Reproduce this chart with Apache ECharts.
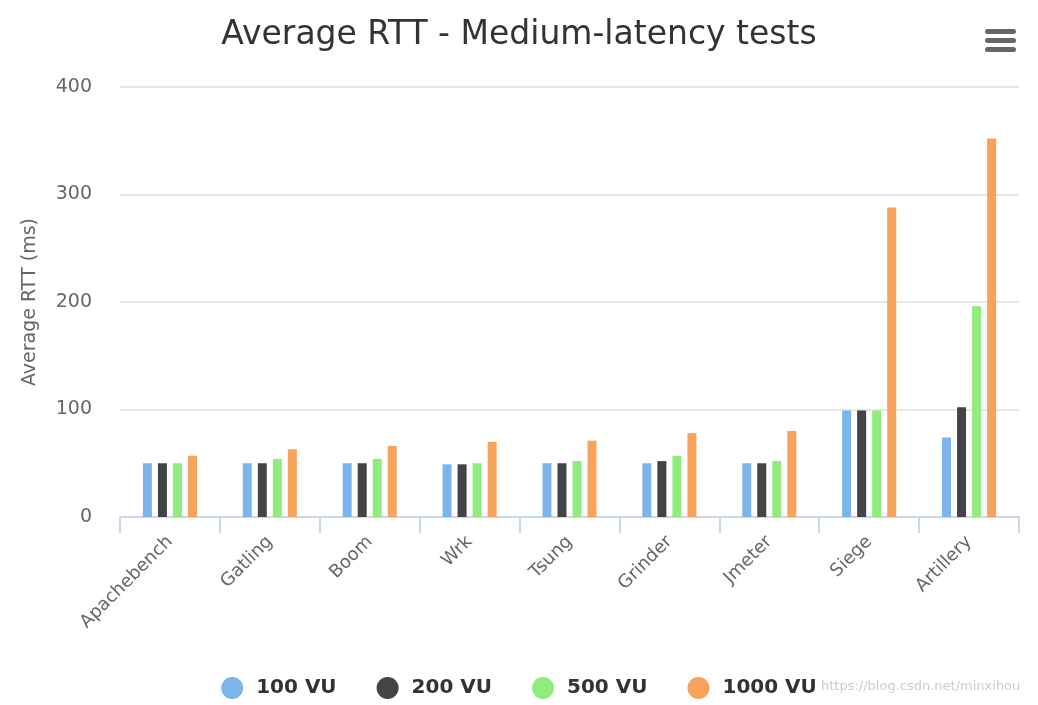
<!DOCTYPE html>
<html>
<head>
<meta charset="utf-8">
<script src="https://cdn.jsdelivr.net/npm/echarts@6/dist/echarts.min.js"></script>
<style>html,body{margin:0;padding:0;background:#fff}#c{width:1038px;height:705px}</style>
</head>
<body>
<div id="c"></div>
<script>
const categories = ['Apachebench','Gatling','Boom','Wrk','Tsung','Grinder','Jmeter','Siege','Artillery'];
const seriesNames = ['100 VU','200 VU','500 VU','1000 VU'];
const vu100 = [50, 50, 50, 49, 50, 50, 50, 99, 74];
const vu200 = [50, 50, 50, 49, 50, 52, 50, 99, 102];
const vu500 = [50, 54, 54, 50, 52, 57, 52, 99, 196];
const vu1000 = [57, 63, 66, 70, 71, 78, 80, 288, 352];
const yTicks = [0, 100, 200, 300, 400];
const colors = ['#7cb5ec', '#434348', '#90ed7d', '#f7a35c'];

const FONT = 'DejaVu Sans';
const chart = echarts.init(document.getElementById('c'), null, {renderer: 'canvas'});
const data = [vu100, vu200, vu500, vu1000];
chart.setOption({
  animation: false,
  color: colors,
  textStyle: {fontFamily: FONT},
  title: {
    text: 'Average RTT - Medium-latency tests',
    left: 'center', top: 14,
    textStyle: {fontFamily: FONT, fontSize: 33, fontWeight: 'normal', color: '#333'}
  },
  legend: {
    bottom: 1, left: 'center',
    icon: 'circle', itemWidth: 22, itemHeight: 22, itemGap: 40,
    textStyle: {fontFamily: FONT, fontSize: 20, fontWeight: 'bold', color: '#333', padding: [0, 0, 0, 8]},
    data: seriesNames
  },
  grid: {left: 120, right: 19, top: 87, bottom: 188, containLabel: false},
  xAxis: {
    type: 'category',
    data: categories,
    axisLine: {lineStyle: {color: '#ccd6eb', width: 2}},
    axisTick: {show: true, length: 16, alignWithLabel: false, lineStyle: {color: '#ccd6eb', width: 2}},
    axisLabel: {rotate: 45, fontSize: 18, color: '#666', fontFamily: FONT, margin: 22}
  },
  yAxis: {
    type: 'value',
    min: yTicks[0], max: yTicks[yTicks.length - 1], interval: 100,
    name: 'Average RTT (ms)', nameLocation: 'middle', nameGap: 80, nameRotate: 90,
    nameTextStyle: {fontSize: 19, color: '#666', fontFamily: FONT},
    axisLine: {show: false}, axisTick: {show: false},
    axisLabel: {fontSize: 19, color: '#666', fontFamily: FONT, margin: 28},
    splitLine: {lineStyle: {color: '#e6e6e6', width: 2}}
  },
  series: seriesNames.map((n, i) => ({
    name: n, type: 'bar', data: data[i], barWidth: 9, barGap: '67%',
    itemStyle: {color: colors[i]}
  })),
  graphic: [
    {type: 'rect', right: 22, top: 29, shape: {width: 31, height: 5, r: 2.5}, style: {fill: '#666'}},
    {type: 'rect', right: 22, top: 38, shape: {width: 31, height: 5, r: 2.5}, style: {fill: '#666'}},
    {type: 'rect', right: 22, top: 47, shape: {width: 31, height: 5, r: 2.5}, style: {fill: '#666'}},
    {type: 'text', left: 821, top: 680, style: {text: 'https://blog.csdn.net/minxihou', fontSize: 13, fontFamily: FONT, fill: 'rgba(190,190,190,0.8)'}}
  ]
});
</script>
</body>
</html>
